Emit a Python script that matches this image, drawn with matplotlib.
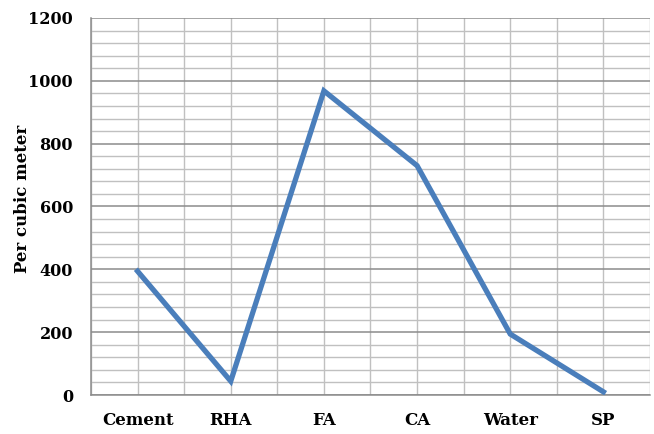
import matplotlib
matplotlib.use("Agg")
import matplotlib.pyplot as plt
import numpy as np

categories = ["Cement", "RHA", "FA", "CA", "Water", "SP"]
values = [394, 44, 968, 730, 194, 10]

fig = plt.figure(figsize=(6.54, 4.34), dpi=100)
ax = fig.add_axes([91/654, (434-395)/434, (650-91)/654, (395-18)/434])

x = np.arange(len(categories))
ax.plot(x, values, color="#4A7EBB", linewidth=3.8, solid_joinstyle="miter", zorder=3)

ax.set_xlim(-0.5, len(categories) - 0.5)
ax.set_ylim(0, 1200)
ax.set_yticks(np.arange(0, 1201, 200))
ax.set_yticks(np.arange(0, 1201, 40), minor=True)
ax.set_xticks(x)
ax.set_xticks(np.arange(-0.5, len(categories), 0.5), minor=True)
ax.set_xticklabels(categories)

ax.grid(which="major", axis="y", color="#8c8c8c", linewidth=1.1)
ax.grid(which="minor", axis="y", color="#c0c0c0", linewidth=1.0)
ax.grid(which="minor", axis="x", color="#c0c0c0", linewidth=1.0)
ax.grid(which="major", axis="x", color="#c0c0c0", linewidth=1.0)

for s in ["top", "right"]:
    ax.spines[s].set_visible(False)
for s in ["left", "bottom"]:
    ax.spines[s].set_color("#8c8c8c")
    ax.spines[s].set_linewidth(1.1)

ax.tick_params(which="both", length=0)
ax.tick_params(axis="x", pad=12)
ax.tick_params(axis="y", pad=13)

for lab in ax.get_xticklabels():
    lab.set_fontfamily("DejaVu Serif")
    lab.set_fontweight("bold")
    lab.set_fontsize(12)
for lab in ax.get_yticklabels():
    lab.set_fontfamily("DejaVu Serif")
    lab.set_fontweight("bold")
    lab.set_fontsize(11.5)

ax.set_ylabel("Per cubic meter", family="DejaVu Serif", weight="bold", size=12)
ax.yaxis.set_label_coords(-0.108, 0.52)
ax.set_axisbelow(True)

fig.savefig("out.png", dpi=100)
